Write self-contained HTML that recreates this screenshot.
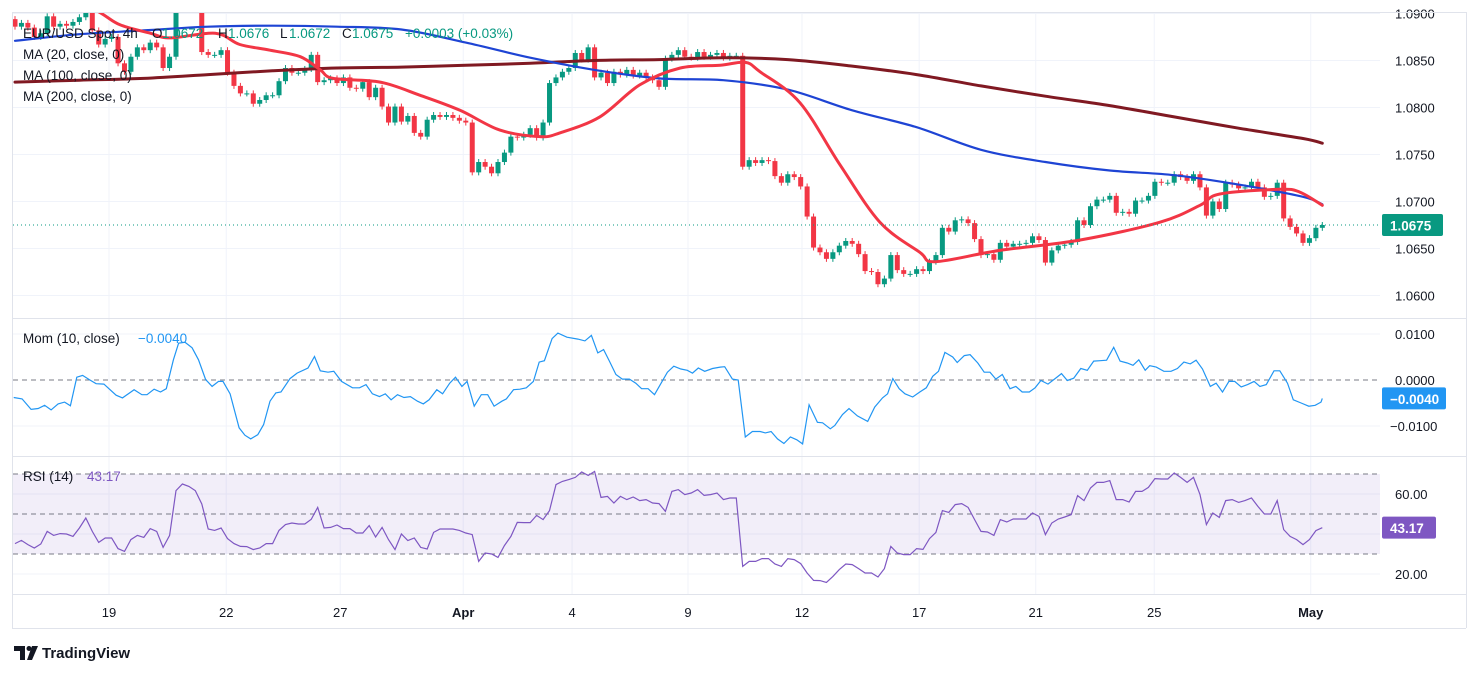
<!DOCTYPE html>
<html><head><meta charset="utf-8">
<style>
html,body{margin:0;padding:0;background:#fff;}
svg{display:block;font-family:"Liberation Sans",sans-serif;}
</style></head>
<body>
<svg id="chart" width="1469" height="674" viewBox="0 0 1469 674" xmlns="http://www.w3.org/2000/svg">
<defs>
<clipPath id="mainClip"><rect x="13" y="13" width="1367" height="305"/></clipPath>
<clipPath id="momClip"><rect x="13" y="319" width="1367" height="137"/></clipPath>
<clipPath id="rsiClip"><rect x="13" y="457" width="1367" height="137"/></clipPath>
</defs>
<rect x="0" y="0" width="1469" height="674" fill="#ffffff"/>
<g id="grid"></g>
<g id="rsiBand"></g>
<g id="candles" clip-path="url(#mainClip)"></g>
<g id="maLines" clip-path="url(#mainClip)"></g>
<g id="momG" clip-path="url(#momClip)"></g>
<g id="rsiG" clip-path="url(#rsiClip)"></g>
<g id="axes"></g>
<g id="frame">
  <line x1="12.5" y1="12" x2="12.5" y2="628" stroke="#e0e3eb"/>
  <line x1="12" y1="12.5" x2="1466" y2="12.5" stroke="#e0e3eb"/>
  <line x1="1466.5" y1="12" x2="1466.5" y2="628" stroke="#e0e3eb"/>
  <line x1="12" y1="628.5" x2="1466" y2="628.5" stroke="#e0e3eb"/>
  <line x1="12" y1="318.5" x2="1466" y2="318.5" stroke="#e0e3eb"/>
  <line x1="12" y1="456.5" x2="1466" y2="456.5" stroke="#e0e3eb"/>
  <line x1="12" y1="594.5" x2="1466" y2="594.5" stroke="#e0e3eb"/>
</g>
<g id="legend" font-size="13.5">
  <text y="38" fill="#131722"><tspan x="23">EUR/USD Spot, 4h</tspan><tspan x="152">O</tspan><tspan x="162" fill="#089981">1.0672</tspan><tspan x="218">H</tspan><tspan x="228" fill="#089981">1.0676</tspan><tspan x="280">L</tspan><tspan x="289" fill="#089981">1.0672</tspan><tspan x="342">C</tspan><tspan x="352" fill="#089981">1.0675</tspan><tspan x="405" fill="#089981">+0.0003 (+0.03%)</tspan></text>
  <text x="23" y="59" fill="#131722">MA (20, close, 0)</text>
  <text x="23" y="80" fill="#131722">MA (100, close, 0)</text>
  <text x="23" y="101" fill="#131722">MA (200, close, 0)</text>
  <text y="343" fill="#131722"><tspan x="23">Mom (10, close)</tspan><tspan x="138" fill="#2196f3">−0.0040</tspan></text>
  <text y="481" fill="#131722"><tspan x="23">RSI (14)</tspan><tspan x="87" fill="#7e57c2">43.17</tspan></text>
</g>
<g>
  <path d="M14 646 h11 v14 h-5 v-9 h-6 z" fill="#131722"/>
  <circle cx="29" cy="648.5" r="2.5" fill="#131722"/>
  <path d="M32 646 h6 l-6 14 h-5 z" fill="#131722"/>
  <text x="42" y="658" font-size="15" font-weight="bold" fill="#131722">TradingView</text>
</g>
</svg>
<script>
// ---- data ----
const closes = [1.0886,1.0890,1.0885,1.0875,1.0879,1.0897,1.0886,1.0889,1.0887,1.0891,1.0896,1.0902,1.0882,1.0867,1.0873,1.0875,1.0847,1.0838,1.0854,1.0864,1.0861,1.0869,1.0864,1.0842,1.0854,1.0906,1.0920,1.0925,1.0914,1.0859,1.0856,1.0856,1.0861,1.0837,1.0823,1.0815,1.0815,1.0804,1.0808,1.0813,1.0813,1.0828,1.0842,1.0837,1.0837,1.0841,1.0856,1.0827,1.0829,1.0831,1.0826,
1.0832,1.0821,1.0820,1.0827,1.0811,1.0821,1.0801,1.0784,1.0801,1.0785,1.0791,1.0773,1.0769,1.0787,1.0792,1.0790,1.0792,1.0789,1.0786,1.0784,1.0731,1.0742,1.0737,1.0730,1.0742,1.0752,1.0769,1.0768,1.0771,1.0778,1.0768,1.0784,1.0826,1.0832,1.0838,1.0842,1.0858,1.0851,1.0864,1.0832,1.0837,1.0826,1.0838,1.0835,1.0840,1.0834,1.0837,1.0832,1.0829,
1.0822,1.0852,1.0856,1.0861,1.0854,1.0853,1.0859,1.0854,1.0856,1.0858,1.0853,1.0855,1.0855,1.0737,1.0744,1.0741,1.0744,1.0743,1.0727,1.0720,1.0729,1.0726,1.0716,1.0684,1.0651,1.0646,1.0639,1.0646,1.0653,1.0658,1.0655,1.0644,1.0626,1.0625,1.0612,1.0618,1.0643,1.0627,1.0623,1.0623,1.0628,1.0626,1.0636,1.0643,1.0672,1.0668,1.0680,1.0681,1.0677,
1.0660,1.0643,1.0644,1.0638,1.0656,1.0652,1.0655,1.0655,1.0656,1.0663,1.0659,1.0635,1.0648,1.0653,1.0654,1.0657,1.0680,1.0675,1.0695,1.0702,1.0702,1.0706,1.0688,1.0689,1.0687,1.0701,1.0701,1.0706,1.0721,1.0720,1.0720,1.0729,1.0726,1.0722,1.0729,1.0715,1.0685,1.0700,1.0692,1.0720,1.0718,1.0714,1.0715,1.0721,1.0715,1.0705,1.0706,1.0720,1.0682,1.0673,1.0666,1.0656,1.0661,1.0672,1.0675];
const firstOpen = 1.0894;

const ma20Bars = [0,7.0,13.2,16.3,21.0,24.1,31.1,34.9,39.6,44.3,47.4,49.4,56.7,62.9,69.1,75.3,81.5,84.6,90.8,97.0,103.3,109.5,113.4,115.7,121.9,128.1,134.3,140.5,142.9,152.9,165.4,177.8,184.0,187.1,196.4,199.5,203];
const ma20 = [1.0945,1.0925,1.0901,1.0888,1.0879,1.0874,1.0879,1.0867,1.0861,1.0854,1.0840,1.0831,1.0827,1.0813,1.0797,1.0776,1.0769,1.0773,1.0790,1.0824,1.0842,1.0845,1.0848,1.0838,1.0805,1.0739,1.0678,1.0646,1.0636,1.0648,1.0659,1.0678,1.0696,1.0708,1.0713,1.0710,1.0696];
const maBars = [0,10,20,30,40,50,60,70,80,90,100,110,120,130,140,150,160,170,180,190,200,203];
const ma100 = [1.0871,1.0878,1.0882,1.0886,1.0887,1.0886,1.0883,1.0869,1.0853,1.0840,1.0831,1.0829,1.0819,1.0797,1.0779,1.0755,1.0742,1.0733,1.0728,1.0718,1.0705,1.0697];
const ma200 = [1.0827,1.0829,1.0831,1.0835,1.0839,1.0842,1.0843,1.0845,1.0847,1.0850,1.0851,1.0853,1.0851,1.0844,1.0835,1.0823,1.0812,1.0802,1.0790,1.0778,1.0767,1.0762];

const momBars = [-0.2,1.1,2.5,3.6,4.6,5.6,6.7,7.7,8.6,9.6,10.5,11.5,12.6,13.8,15.7,16.7,18.5,19.7,20.5,21.6,22.6,23.5,24.6,25.4,26.4,27.5,28.5,29.6,30.6,31.6,32.3,33.4,34.8,35.7,36.6,37.7,38.6,39.6,40.5,41.3,42.7,43.8,45.5,46.5,47.4,48.6,49.5,50.7,52.4,53.5,54.5,55.5,56.6,57.5,58.4,59.4,60.4,61.4,62.5,63.4,64.3,65.5,66.4,67.5,68.4,69.4,70.2,71.3,72.4,73.4,74.4,75.6,76.3,77.4,78.4,79.4,80.5,81.4,82.2,83.4,84.3,85.7,87.4,88.5,89.5,90.5,91.4,92.3,93.3,94.3,95.4,96.4,97.3,98.3,99.3,100.2,101.3,102.3,103.4,104.4,105.2,106.1,
107.1,108.3,109.5,110.2,111.4,112.3,113.4,114.5,115.7,116.5,117.4,118.4,119.4,120.4,121.4,122.3,123.3,124.6,125.4,126.6,127.3,128.5,129.5,130.8,132.4,133.5,134.7,135.5,136.3,137.3,138.2,139.4,140.5,141.5,142.5,143.4,144.4,145.6,146.3,147.4,148.3,149.5,150.5,151.4,152.3,153.3,154.5,155.4,156.4,157.5,158.4,159.3,160.4,161.5,162.5,163.4,164.4,165.5,166.5,167.5,168.5,169.5,170.6,171.6,172.7,173.6,174.5,175.5,176.2,177.2,178.4,179.5,180.5,181.5,182.5,183.4,184.4,185.6,186.5,187.5,188.5,189.4,190.4,191.4,192.4,193.3,194.3,195.5,196.4,197.6,198.5,199.7,200.9,201.9,202.8,203];
const momValues = [-0.0038,-0.0041,-0.0064,-0.0062,-0.0055,-0.0065,-0.0052,-0.0048,-0.0056,0.0006,0.0010,0.0001,-0.0008,-0.0009,-0.0033,-0.0039,-0.0021,-0.0032,-0.0032,-0.0020,-0.0026,-0.0019,0.0044,0.0080,0.0082,0.0070,0.0044,0.0001,-0.0014,-0.0003,-0.0003,-0.0030,-0.0104,-0.0120,-0.0128,-0.0119,-0.0097,-0.0046,-0.0028,-0.0026,0.0003,0.0015,0.0026,0.0051,0.0020,0.0017,0.0019,-0.0003,-0.0017,-0.0017,-0.0010,-0.0030,-0.0036,-0.0030,-0.0043,-0.0032,-0.0038,-0.0036,-0.0046,-0.0052,-0.0043,-0.0021,-0.0030,-0.0007,0.0006,-0.0014,-0.0003,-0.0057,-0.0032,-0.0032,-0.0057,-0.0046,-0.0041,-0.0021,-0.0020,-0.0017,-0.0003,0.0039,0.0042,0.0090,0.0102,0.0093,0.0089,0.0085,0.0097,0.0059,0.0066,0.0041,0.0012,0.0002,0.0002,-0.0007,-0.0019,-0.0019,-0.0032,-0.0010,0.0017,0.0030,0.0024,0.0021,0.0015,0.0026,
0.0019,0.0025,0.0028,0.0029,0.0002,0.0000,-0.0124,-0.0112,-0.0112,-0.0115,-0.0112,-0.0128,-0.0138,-0.0124,-0.0130,-0.0139,-0.0054,-0.0092,-0.0093,-0.0106,-0.0099,-0.0075,-0.0062,-0.0078,-0.0090,-0.0059,-0.0039,-0.0030,0.0003,-0.0019,-0.0030,-0.0037,-0.0026,-0.0017,0.0008,0.0019,0.0060,0.0050,0.0038,0.0053,0.0055,0.0037,0.0017,0.0017,0.0002,0.0012,-0.0019,-0.0014,-0.0026,-0.0026,-0.0017,-0.0001,-0.0009,0.0003,0.0014,-0.0001,0.0004,0.0025,0.0021,0.0041,0.0042,0.0043,0.0071,0.0041,0.0037,0.0032,0.0044,0.0021,0.0031,0.0028,0.0019,0.0019,0.0025,0.0039,0.0035,0.0043,0.0024,-0.0014,-0.0007,-0.0026,-0.0003,-0.0003,-0.0015,-0.0010,-0.0003,-0.0014,-0.0010,0.0020,0.0020,-0.0007,-0.0043,-0.0050,-0.0057,-0.0055,-0.0048,-0.0040];

const rsiValues = [35.2,36.8,34.7,33.0,35.0,41.3,39.3,40.2,40.0,38.8,43.0,48.0,41.3,35.8,38.0,38.0,32.7,31.3,37.2,39.3,38.3,42.7,41.3,33.3,39.3,61.7,65.0,63.8,61.7,55.0,42.5,41.8,43.0,37.7,35.2,33.8,33.7,32.2,33.0,35.2,35.2,41.8,44.7,45.5,45.0,45.0,47.3,53.3,43.0,43.3,44.5,42.7,42.7,40.5,40.5,44.2,38.5,43.3,37.2,32.2,40.0,36.7,38.0,33.3,32.5,40.8,42.5,42.5,42.5,41.8,40.5,39.7,26.3,30.5,30.0,28.3,34.2,38.8,45.8,45.7,45.7,49.3,47.2,51.7,64.7,66.3,67.2,68.3,71.0,69.3,71.3,58.3,58.8,55.5,58.8,57.2,58.5,56.7,57.2,55.5,55.2,51.3,61.3,62.2,
59.7,60.5,62.2,59.3,59.7,60.5,57.2,58.0,58.0,23.8,26.3,26.3,27.7,27.7,25.0,23.8,27.7,27.2,25.2,20.5,16.8,16.7,15.8,18.8,22.2,25.0,24.7,22.7,20.5,20.5,18.5,22.7,33.8,30.5,29.7,29.7,32.7,32.3,37.7,40.8,51.7,50.8,54.7,55.2,53.3,47.2,41.3,41.0,39.3,47.2,46.0,47.5,47.5,47.5,50.5,48.8,39.7,45.5,47.5,48.5,49.7,59.2,56.7,63.0,65.8,65.8,66.7,57.2,57.2,56.0,61.3,61.3,63.3,67.7,67.5,67.5,70.5,68.3,65.8,68.3,59.7,44.7,50.5,48.3,56.7,57.2,55.8,56.7,58.0,53.8,50.0,50.0,56.7,42.2,38.8,37.2,34.7,37.2,41.7,43.17];

const priceTicks = [1.0900,1.0850,1.0800,1.0750,1.0700,1.0650,1.0600];
const momTicks = [0.0100,0.0000,-0.0100];
const rsiTicks = [60,20];
const rsiLevels = [70,50,30];
const dateLabels = ['19','22','27','Apr','4','9','12','17','21','25','May'];
const dateBars = [14.6,32.8,50.5,69.6,86.5,104.5,122.2,140.4,158.5,176.9,201.2];
const lastPrice = 1.0675;
const lastMom = -0.0040;
const lastRsi = 43.17;

// ---- scales ----
const NS='http://www.w3.org/2000/svg';
const xB = i => 15 + i*6.44;
const yP = p => 295.5 - (p-1.06)/0.005*47;
const yM = v => 380 - v*4600;
const yR = v => 514 - (v-50)*2;
const PL=13, PR=1380;
function mk(tag, attrs, parent){const e=document.createElementNS(NS,tag);for(const k in attrs)e.setAttribute(k,attrs[k]);parent.appendChild(e);return e;}
function smooth(pts){let d='M'+pts[0][0].toFixed(1)+' '+pts[0][1].toFixed(1);
  for(let i=0;i<pts.length-1;i++){const p0=pts[i-1]||pts[i],p1=pts[i],p2=pts[i+1],p3=pts[i+2]||p2;
    const c1=[p1[0]+(p2[0]-p0[0])/6,p1[1]+(p2[1]-p0[1])/6],c2=[p2[0]-(p3[0]-p1[0])/6,p2[1]-(p3[1]-p1[1])/6];
    d+=' C'+c1[0].toFixed(1)+' '+c1[1].toFixed(1)+' '+c2[0].toFixed(1)+' '+c2[1].toFixed(1)+' '+p2[0].toFixed(1)+' '+p2[1].toFixed(1);}
  return d;}

const grid=document.getElementById('grid');
priceTicks.forEach(t=>{const l=mk('line',{x1:PL,x2:PR,y1:yP(t),y2:yP(t),stroke:'#f0f3fa'},grid);
  
  });
momTicks.forEach(t=>{if(t===0)return;const l=mk('line',{x1:PL,x2:PR,y1:yM(t),y2:yM(t),stroke:'#f0f3fa'},grid);
  
  });
[60,40,20].forEach(t=>{const l=mk('line',{x1:PL,x2:PR,y1:yR(t),y2:yR(t),stroke:'#f0f3fa'},grid);
  
  });
dateBars.forEach(b=>{const l=mk('line',{x1:xB(b),x2:xB(b),y1:13,y2:594,stroke:'#f0f3fa'},grid);
  
  });

// rsi band
const band=document.getElementById('rsiBand');
const br=mk('rect',{x:PL,y:yR(70),width:PR-PL,height:yR(30)-yR(70),fill:'rgba(126,87,194,0.1)'},band);


rsiLevels.forEach(v=>{const l=mk('line',{x1:PL,x2:PR,y1:yR(v),y2:yR(v),stroke:'#787b86','stroke-dasharray':'5,4'},band);
  
  });

// candles
const cg=document.getElementById('candles');
closes.forEach((c,i)=>{const o=i===0?firstOpen:closes[i-1];const up=c>=o;const col=up?'#089981':'#f23645';
  const x=xB(i);const yt=Math.min(yP(o),yP(c)),yb=Math.max(yP(o),yP(c));
  const g=mk('g',{},cg);
  
  
  mk('line',{x1:x,x2:x,y1:yt-3,y2:yb+3,stroke:col,'stroke-width':1},g);
  mk('rect',{x:x-2.5,y:yt,width:5,height:Math.max(1,yb-yt),fill:col},g);});

// last price dotted line
const lp=mk('line',{x1:PL,x2:PR,y1:yP(lastPrice),y2:yP(lastPrice),stroke:'#089981','stroke-dasharray':'1,3'},document.getElementById('axes'));



// MA lines
const mg=document.getElementById('maLines');
[[ma200,maBars,'#801922',3,'ma200-line'],[ma100,maBars,'#1e44d4',2.2,'ma100-line'],[ma20,ma20Bars,'#f23645',3,'ma20-line']].forEach(([arr,bars,col,w,nm])=>{
  const pts=arr.map((v,k)=>[xB(bars[k]),yP(v)]);
  const p=mk('path',{d:smooth(pts),fill:'none',stroke:col,'stroke-width':w,'stroke-linejoin':'round','stroke-linecap':'round'},mg);
  
  });

// momentum
const momG=document.getElementById('momG');
const zl=mk('line',{x1:PL,x2:PR,y1:yM(0),y2:yM(0),stroke:'#787b86','stroke-dasharray':'5,4'},momG);


const mp=mk('polyline',{points:momValues.map((v,k)=>xB(momBars[k]).toFixed(1)+','+yM(v).toFixed(1)).join(' '),fill:'none',stroke:'#2196f3','stroke-width':1.2},momG);



// rsi
const rsiG=document.getElementById('rsiG');
const rp=mk('polyline',{points:rsiValues.map((v,k)=>xB(k).toFixed(1)+','+yR(v).toFixed(1)).join(' '),fill:'none',stroke:'#7e57c2','stroke-width':1.2},rsiG);



// axes labels
const ax=document.getElementById('axes');
priceTicks.forEach(t=>{const e=mk('text',{x:1395,y:yP(t)+5,'font-size':13,fill:'#131722'},ax);e.textContent=t.toFixed(4);
  
  });
momTicks.forEach(t=>{const e=mk('text',{x:t<0?1390:1395,y:yM(t)+5,'font-size':13,fill:'#131722'},ax);e.textContent=(t<0?'−':'')+Math.abs(t).toFixed(4);
  
  });
rsiTicks.forEach(t=>{const e=mk('text',{x:1395,y:yR(t)+5,'font-size':13,fill:'#131722'},ax);e.textContent=t.toFixed(2);
  
  });
dateLabels.forEach((d,k)=>{const bold=(d==='Apr'||d==='May');const e=mk('text',{x:xB(dateBars[k]),y:617,'font-size':13,fill:'#131722','text-anchor':'middle','font-weight':bold?'bold':'normal'},ax);e.textContent=d;
  
  });

function badge(y,txt,col,w,nm){const g=mk('g',{},ax);
  
  
  mk('rect',{x:1382,y:y-11,width:w,height:22,fill:col,rx:2},g);
  const t=mk('text',{x:1390,y:y+5.5,'font-size':13.5,fill:'#ffffff','font-weight':'bold'},g);t.textContent=txt;}
badge(yP(lastPrice),lastPrice.toFixed(4),'#089981',61,'last-price-badge');
badge(yM(lastMom),'−'+Math.abs(lastMom).toFixed(4),'#2196f3',64,'last-mom-badge');
badge(yR(lastRsi),lastRsi.toFixed(2),'#7e57c2',54,'last-rsi-badge');
</script>
</body></html>
